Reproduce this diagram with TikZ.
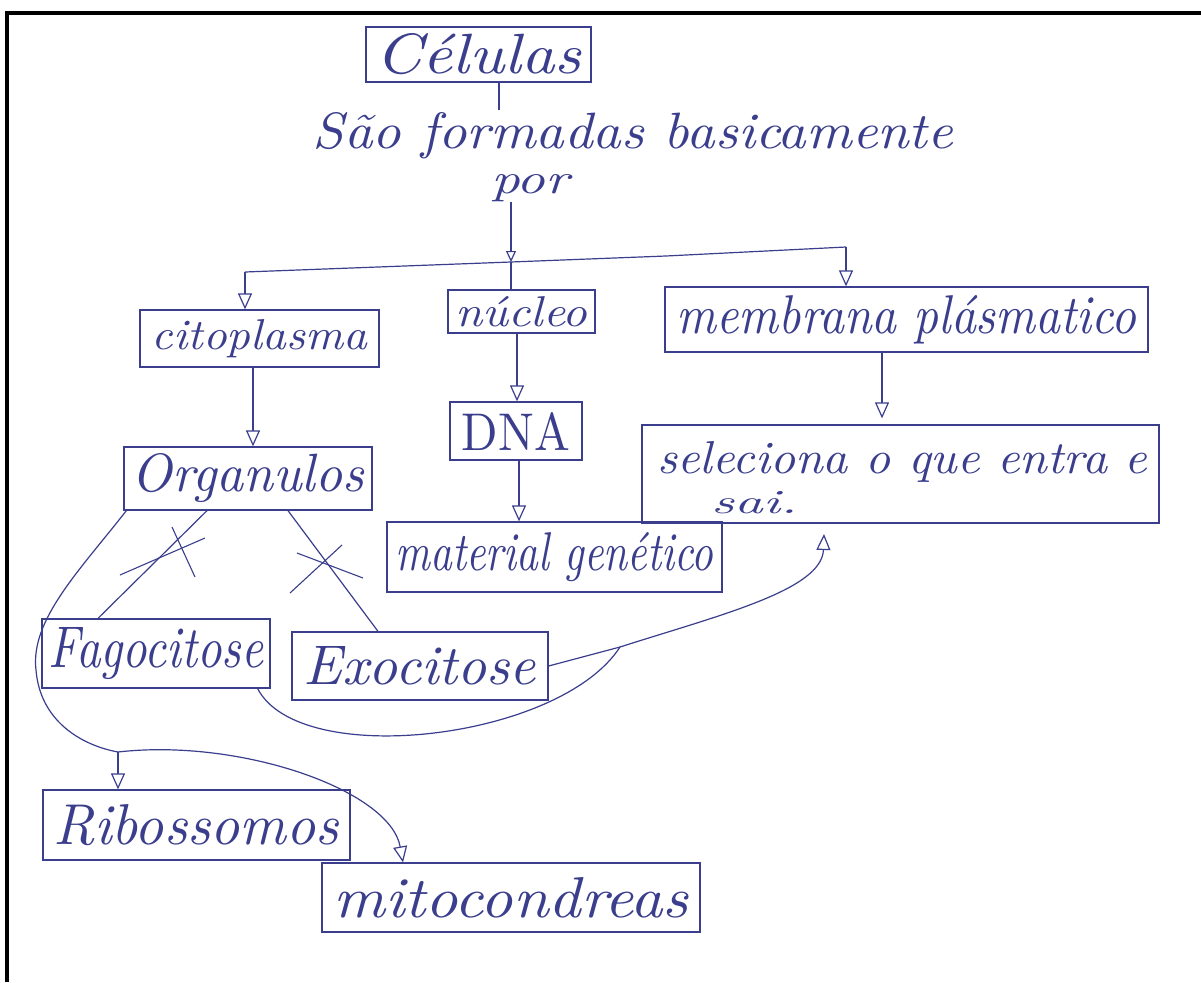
\documentclass[tikz,border=0pt]{standalone}
\usepackage{fontspec}
\usepackage{graphicx}
\usetikzlibrary{arrows.meta}
\definecolor{ink}{RGB}{58,62,140}
\newcommand{\hwt}[3]{\resizebox{#1pt}{#2pt}{\itshape #3}}
\begin{document}
\begin{tikzpicture}[x=1pt,y=-1pt,
  box/.style={draw=ink, line width=1.3pt, inner sep=0pt, text=ink},
  lbl/.style={inner sep=0pt, text=ink},
  con/.style={draw=ink, line width=1.2pt},
  tri/.style={con, -{Triangle[open, length=16pt, width=14pt, fill=white]}},
  trismall/.style={con, -{Triangle[open, length=11pt, width=10pt, fill=white]}},
  crs/.style={draw=ink, line width=1.1pt}]
\fill[white] (0,0) rectangle (1201,982);
\useasboundingbox (0,0) rectangle (1201,982);
\draw[line width=4pt, black] (1201,13) -- (7,13) -- (7,982);

% nodes
\node[box, minimum width=225pt, minimum height=55pt] (celulas) at (478.5,54.5) {\hwt{205}{40}{Células}};
\node[lbl, anchor=base] (sao) at (633,148) {\hwt{640}{36}{São formadas basicamente}};
\node[lbl, anchor=base] (por) at (530,193) {\hwt{78}{19}{por}};
\node[box, minimum width=239pt, minimum height=57pt] (cito) at (259.5,338.5) {\hwt{215}{30}{citoplasma}};
\node[box, minimum width=147pt, minimum height=43pt] (nucleo) at (521.5,311.5) {\hwt{132}{30}{núcleo}};
\node[box, minimum width=483pt, minimum height=65pt] (memb) at (906.5,319.5) {\hwt{460}{38}{membrana plásmatico}};
\node[box, minimum width=132pt, minimum height=58pt] (dna) at (516,431) {\resizebox{108pt}{38pt}{DNA}};
\node[box, minimum width=335pt, minimum height=70pt] (mat) at (554.5,557) {\hwt{318}{38}{material genético}};
\node[box, minimum width=517pt, minimum height=98pt] (sel) at (900.5,474) {};
\node[lbl, anchor=base west] (sel1) at (657,473) {\hwt{490}{32}{seleciona o que entra e}};
\node[lbl, anchor=base west] (sel2) at (711,513) {\hwt{86}{22}{sai.}};
\node[box, minimum width=248pt, minimum height=63pt] (org) at (248,478.5) {\hwt{232}{38}{Organulos}};
\node[box, minimum width=228pt, minimum height=69pt] (fago) at (156,653.5) {\hwt{215}{40}{Fagocitose}};
\node[box, minimum width=256pt, minimum height=68pt] (exo) at (420,666) {\hwt{232}{38}{Exocitose}};
\node[box, minimum width=307pt, minimum height=70pt] (ribo) at (196.5,825) {\hwt{285}{40}{Ribossomos}};
\node[box, minimum width=378pt, minimum height=69pt] (mito) at (511,897.5) {\hwt{355}{40}{mitocondreas}};

% coordinates
\coordinate (a1) at (499,110);
\coordinate (J) at (511,262);
\coordinate (L) at (245,272);
\coordinate (M) at (666,256);
\coordinate (R) at (846,247);
\coordinate (k1) at (118,752);
\coordinate (jn) at (620,647);
\coordinate (k3) at (824,534);

% connectors
\draw[con] (celulas.south -| a1) -- (a1);
\draw[trismall] (por.south -| J) -- (J);
\draw[con] (L) -- (J) -- (M) -- (R);
\draw[con] (J) -- (J |- nucleo.north);
\draw[tri] (L) -- (L |- cito.north);
\draw[tri] (R) -- (R |- memb.north);
\draw[tri] ([xshift=-6.5pt]cito.south) -- ([xshift=5pt]org.north);
\draw[tri] ([xshift=-4.5pt]nucleo.south) -- ([xshift=1pt]dna.north);
\draw[tri] ([xshift=3pt]dna.south) -- ([xshift=-35.5pt]mat.north);
\draw[tri, shorten >=6pt] ([xshift=-24.5pt]memb.south) -- ([xshift=-18.5pt]sel.north);

\draw[con] ([xshift=-41pt]org.south) -- ([xshift=-58pt]fago.north);
\draw[con] ([xshift=40pt]org.south) -- ([xshift=-42pt]exo.north);

% crossing marks
\draw[crs] (120,575) -- (205,538);
\draw[crs] (172,527) -- (195,577);
\draw[crs] (297,553) -- (363,578);
\draw[crs] (290,593) -- (342,545);

\draw[con] ([xshift=3pt]org.south west) .. controls (80,570) and (30,620) .. (36,670)
  .. controls (40,720) and (80,745) .. (k1);
\draw[tri] (k1) -- (k1 |- ribo.north);
\draw[tri] (k1) .. controls (240,738) and (390,790) .. ([xshift=-108pt]mito.north);

\draw[con] ([xshift=-13pt]fago.south east) .. controls (300,770) and (560,740) .. (jn);
\draw[con] (exo.east) -- (jn);
\draw[tri] (jn) .. controls (720,615) and (822,590) .. (k3);
\end{tikzpicture}
\end{document}
